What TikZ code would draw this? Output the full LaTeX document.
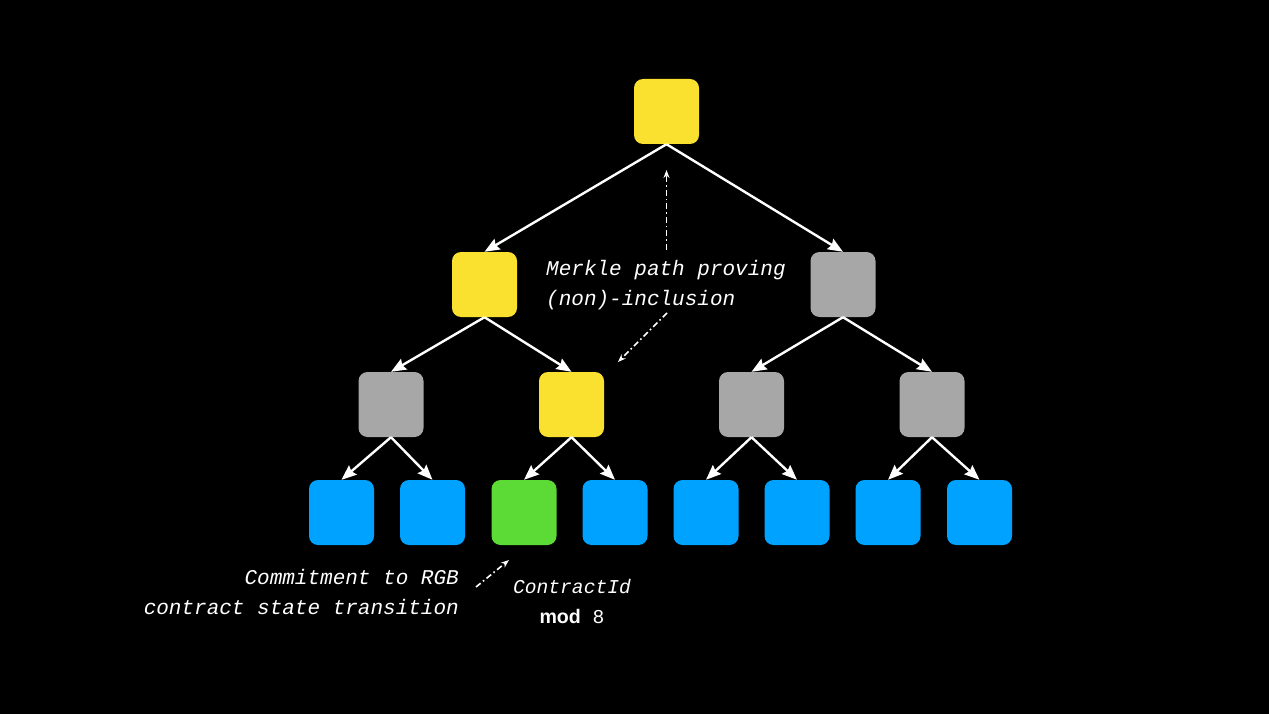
\documentclass[tikz,border=0pt]{standalone}
\usepackage{fontspec}
\setmonofont{Liberation Mono}
\setsansfont{Liberation Sans}
\usetikzlibrary{arrows.meta}
\definecolor{cyellow}{HTML}{FBE12F}
\definecolor{cgray}{HTML}{A7A7A7}
\definecolor{cblue}{HTML}{00A2FF}
\definecolor{cgreen}{HTML}{5CDA36}
\tikzset{
  box/.style={rectangle, rounded corners=9pt, minimum width=65pt, minimum height=65pt, inner sep=0pt, draw=none},
  yb/.style={box, fill=cyellow},
  gb/.style={box, fill=cgray},
  bb/.style={box, fill=cblue},
  grb/.style={box, fill=cgreen},
  edge/.style={draw=white, line width=2.4pt, -{Stealth[length=15pt,width=12pt,inset=2pt]}},
  hint/.style={draw=white, line width=1.6pt, dash pattern=on 6pt off 3pt on 1.6pt off 3pt, -{Stealth[length=8pt,width=6pt]}},
  lbl/.style={text=white, font=\ttfamily\itshape\fontsize{21}{29}\selectfont, inner sep=0pt},
  lbls/.style={text=white, font=\ttfamily\itshape\fontsize{19.6}{29}\selectfont, inner sep=0pt},
}
\begin{document}
\begin{tikzpicture}[x=1pt,y=-1pt]
\fill[black] (0,0) rectangle (1269,714);
\useasboundingbox (0,0) rectangle (1269,714);
% nodes
\node[yb] (r) at (666.5,111.5) {};
\node[yb] (l) at (484.5,284.5) {};
\node[gb] (rt) at (843,284.5) {};
\node[gb] (ll) at (391,404.5) {};
\node[yb] (lr) at (571.5,404.5) {};
\node[gb] (rl) at (751.5,404.5) {};
\node[gb] (rr) at (932,404.5) {};
\node[bb] (a1) at (341.5,512.5) {};
\node[bb] (a2) at (432.5,512.5) {};
\node[grb] (a3) at (524,512.5) {};
\node[bb] (a4) at (615,512.5) {};
\node[bb] (a5) at (706,512.5) {};
\node[bb] (a6) at (797,512.5) {};
\node[bb] (a7) at (888,512.5) {};
\node[bb] (a8) at (979.5,512.5) {};
% edges
\draw[edge] (r.south) -- (l.north);
\draw[edge] (r.south) -- (rt.north);
\draw[edge] (l.south) -- (ll.north);
\draw[edge] (l.south) -- (lr.north);
\draw[edge] (rt.south) -- (rl.north);
\draw[edge] (rt.south) -- (rr.north);
\draw[edge] (ll.south) -- (a1.north);
\draw[edge] (ll.south) -- (a2.north);
\draw[edge] (lr.south) -- (a3.north);
\draw[edge] (lr.south) -- (a4.north);
\draw[edge] (rl.south) -- (a5.north);
\draw[edge] (rl.south) -- (a6.north);
\draw[edge] (rr.south) -- (a7.north);
\draw[edge] (rr.south) -- (a8.north);
% labels
\node[lbl, anchor=base west] (m1) at (546,275) {Merkle path proving};
\node[lbl, anchor=base west] (m2) at (546,305) {(non)-inclusion};
\node[lbl, anchor=base east] (c1) at (459,584) {Commitment to RGB};
\node[lbl, anchor=base east] (c2) at (459,614) {contract state transition};
\node[lbls, anchor=base] (k1) at (572,593) {ContractId};
\node[lbls, anchor=base] (k2) at (572,623) {{\sffamily\upshape\bfseries mod} {\upshape 8}};
% hint arrows
\coordinate (h1a) at (666.5,250);
\coordinate (h1b) at (666.5,170);
\coordinate (h2a) at (667,313);
\coordinate (h2b) at (618,362);
\coordinate (h3a) at (476,587);
\coordinate (h3b) at (509,560);
\draw[hint] (h1a) -- (h1b);
\draw[hint] (h2a) -- (h2b);
\draw[hint] (h3a) -- (h3b);
\end{tikzpicture}
\end{document}
